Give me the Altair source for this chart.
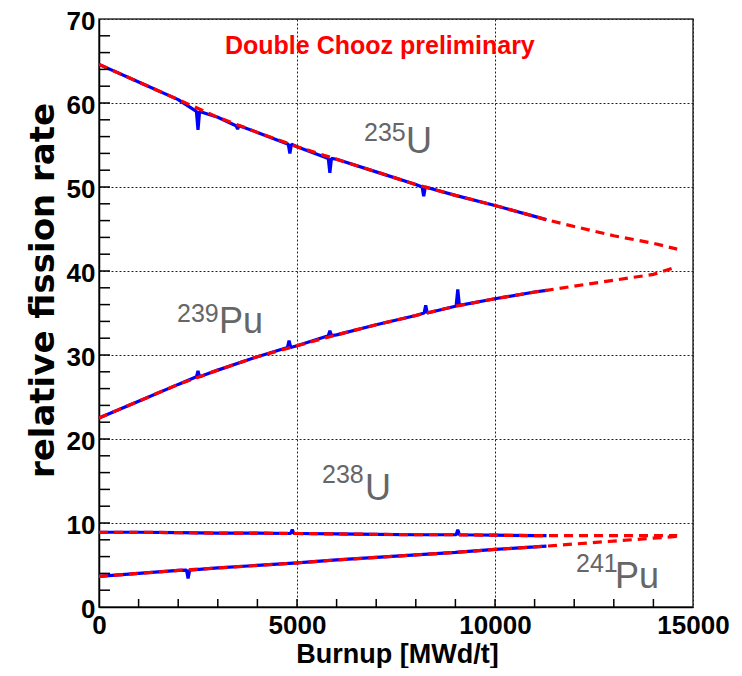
import altair as alt
import pandas as pd

# ---- data ----
isotopes = ["235U", "239Pu", "238U", "241Pu"]

burnup = [0, 1000, 2000, 3000, 4000, 5000, 6000, 7000, 8000, 9000,
          10000, 11000, 11300, 12000, 13000, 14000, 14600]
u235 = [64.6, 62.5, 60.4, 58.3, 56.5, 54.8, 53.3, 51.8, 50.3, 49.0,
        47.8, 46.5, 46.1, 45.3, 44.2, 43.3, 42.6]
pu239 = [22.5, 24.5, 26.5, 28.2, 29.8, 31.1, 32.4, 33.6, 34.7, 35.8,
         36.7, 37.5, 37.7, 38.2, 38.9, 39.6, 40.5]
u238 = [8.9, 8.9, 8.85, 8.8, 8.8, 8.75, 8.7, 8.65, 8.6, 8.6,
        8.55, 8.5, 8.5, 8.5, 8.5, 8.5, 8.5]
pu241 = [3.65, 4.0, 4.35, 4.65, 4.95, 5.25, 5.6, 5.9, 6.2, 6.5,
         6.85, 7.15, 7.25, 7.5, 7.85, 8.2, 8.4]
series = {"235U": u235, "239Pu": pu239, "238U": u238, "241Pu": pu241}

measured_end = 11300  # blue (measured) curves stop here

# small glitches on the measured curves: (burnup, curve value, glitch value)
spikes_u235 = [(2500, 59.0, 56.8), (3500, 57.3, 56.9), (4820, 55.1, 54.0),
               (5830, 53.4, 51.7), (8200, 50.0, 48.9)]
spikes_pu239 = [(2500, 27.4, 28.1), (4800, 30.9, 31.7), (5830, 32.3, 32.9),
                (8250, 35.0, 35.9), (9060, 35.9, 37.8)]
spikes_u238 = [(4880, 8.75, 9.2), (9060, 8.6, 9.2)]
spikes_pu241 = [(2250, 4.4, 3.4)]
spikes = {"235U": spikes_u235, "239Pu": spikes_pu239,
          "238U": spikes_u238, "241Pu": spikes_pu241}

y_tick_vals = list(range(2, 70, 2))
x_tick_vals = list(range(1000, 15000, 1000))

# isotope labels: superscript mass number + element symbol (data coordinates)
label_mass = ["235", "239", "238", "241"]
label_mass_x = [6692, 1970, 5631, 12045]
label_mass_y = [55.5, 33.87, 14.74, 4.16]
label_elem = ["U", "Pu", "U", "Pu"]
label_elem_x = [7753, 3030, 6717, 13030]
label_elem_y = [54.08, 32.56, 12.72, 2.26]

# ---- build tables ----
red_rows = []
blue_rows = []
for iso in isotopes:
    for b, v in zip(burnup, series[iso]):
        red_rows.append({"iso": iso, "burnup": b, "rate": v})
        if b <= measured_end:
            blue_rows.append({"iso": iso, "burnup": b, "rate": v})
    for b, base, peak in spikes[iso]:
        blue_rows.append({"iso": iso, "burnup": b - 40, "rate": base})
        blue_rows.append({"iso": iso, "burnup": b, "rate": peak})
        blue_rows.append({"iso": iso, "burnup": b + 40, "rate": base})
red_df = pd.DataFrame(red_rows)
blue_df = pd.DataFrame(blue_rows).sort_values(["iso", "burnup"])

ytick_df = pd.DataFrame({"rate": y_tick_vals})
xtick_df = pd.DataFrame({"burnup": x_tick_vals})
mass_df = pd.DataFrame({"burnup": label_mass_x, "rate": label_mass_y, "t": label_mass})
elem_df = pd.DataFrame({"burnup": label_elem_x, "rate": label_elem_y, "t": label_elem})
title_df = pd.DataFrame({"burnup": [3182], "rate": [65.84], "t": ["Double Chooz preliminary"]})

FONT = "Liberation Sans"
W, H = 594, 588

xaxis = alt.Axis(
    title="Burnup [MWd/t]", values=[0, 5000, 10000, 15000], format="d",
    labelFont=FONT, labelFontWeight="bold", labelFontSize=26, labelColor="black",
    labelPadding=5, labelFlush=False, labelOverlap=False, ticks=False,
    domainColor="black", domainWidth=1.5,
    grid=True, gridColor="#222222", gridDash=[2, 2], gridWidth=1,
    titleFont=FONT, titleFontSize=27, titleFontWeight="bold", titleColor="black",
    titleX=298, titleY=55, titleBaseline="alphabetic", titleAlign="center",
)
yaxis = alt.Axis(
    title="relative fission rate", values=[0, 10, 20, 30, 40, 50, 60, 70],
    labelFont=FONT, labelFontWeight="bold", labelFontSize=26, labelColor="black",
    labelPadding=4, labelOffset=2, labelFlush=False, labelOverlap=False, ticks=False,
    domainColor="black", domainWidth=1.5,
    grid=True, gridColor="#222222", gridDash=[2, 2], gridWidth=1,
    titleFont="DejaVu Sans", titleFontSize=34, titleFontWeight="bold", titleColor="black",
    titleAngle=270, titleX=-56, titleY=271, titleBaseline="middle", titleAlign="center",
)
xs = alt.Scale(domain=[0, 15000], nice=False)
ys = alt.Scale(domain=[0, 70], nice=False)

X = alt.X("burnup:Q", scale=xs, axis=xaxis)
Y = alt.Y("rate:Q", scale=ys, axis=yaxis)

blue = alt.Chart(blue_df).mark_line(color="#0000ff", strokeWidth=3.2, strokeJoin="bevel").encode(
    x=X, y=Y, detail="iso:N")
red = alt.Chart(red_df).mark_line(color="#ff0000", strokeWidth=3.2, strokeDash=[9, 6]).encode(
    x=X, y=Y, detail="iso:N")

yticks = alt.Chart(ytick_df).mark_rule(color="black", strokeWidth=1.5).encode(
    y=Y, x=alt.value(0), x2=alt.value(11))
xticks = alt.Chart(xtick_df).mark_rule(color="black", strokeWidth=1.5).encode(
    x=X, y=alt.value(H), y2=alt.value(H - 8))

mass_txt = alt.Chart(mass_df).mark_text(
    font=FONT, fontSize=25, color="#666666", align="left", baseline="alphabetic").encode(
    x=X, y=Y, text="t:N")
elem_txt = alt.Chart(elem_df).mark_text(
    font=FONT, fontSize=36, color="#666666", align="left", baseline="alphabetic").encode(
    x=X, y=Y, text="t:N")
title_txt = alt.Chart(title_df).mark_text(
    font=FONT, fontSize=25, fontWeight="bold", color="#ff0000", align="left",
    baseline="alphabetic").encode(x=X, y=Y, text="t:N")

chart = alt.layer(blue, red, yticks, xticks, mass_txt, elem_txt, title_txt).properties(
    width=W, height=H,
    autosize=alt.AutoSizeParams(type="none"),
    padding={"left": 91, "top": 11, "right": 41, "bottom": 61},
    background="white",
).configure_view(stroke="#333333", strokeWidth=1.5)

chart.save("out.html", embed_options={"renderer": "svg", "actions": False})
